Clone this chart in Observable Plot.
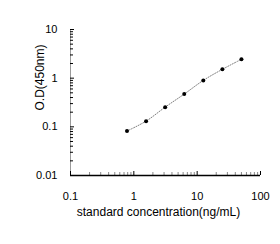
<!DOCTYPE html>
<html>
<head>
<meta charset="utf-8">
<script src="https://cdn.jsdelivr.net/npm/d3@7"></script>
<script src="https://cdn.jsdelivr.net/npm/@observablehq/plot@0.6"></script>
<style>
  html, body { margin: 0; padding: 0; background: #fff; }
  #chart svg { display: block; }
</style>
</head>
<body>
<div id="chart"></div>
<script>
// Data
const concentration = [0.78, 1.56, 3.125, 6.25, 12.5, 25, 50];
const od = [0.082, 0.131, 0.254, 0.471, 0.90, 1.52, 2.44];

const xMajor = [0.1, 1, 10, 100];
const xMajorLabels = ["0.1", "1", "10", "100"];
const yMajor = [0.01, 0.1, 1, 10];
const yMajorLabels = ["0.01", "0.1", "1", "10"];
const minorMult = [2, 3, 4, 5, 6, 7, 8, 9];
const xMinor = [0.1, 1, 10].flatMap(d => minorMult.map(m => +(d * m).toPrecision(3)));
const yMinor = [0.01, 0.1, 1].flatMap(d => minorMult.map(m => +(d * m).toPrecision(3)));

const xTitle = "standard concentration(ng/mL)";
const yTitle = "O.D(450nm)";

const data = concentration.map((c, i) => ({c, od: od[i]}));
const xLab = new Map(xMajor.map((d, i) => [d, xMajorLabels[i]]));
const yLab = new Map(yMajor.map((d, i) => [d, yMajorLabels[i]]));

const chart = Plot.plot({
  width: 280,
  height: 244,
  marginLeft: 70,
  marginRight: 20,
  marginTop: 29,
  marginBottom: 69,
  style: {fontFamily: "'Liberation Sans', Arial, sans-serif", fontSize: "11px", background: "#fff"},
  x: {type: "log", domain: [0.1, 100]},
  y: {type: "log", domain: [0.01, 10]},
  marks: [
    // axis lines
    Plot.ruleX([0.1], {y1: 0.01, y2: 10, stroke: "#9a9a9a", strokeWidth: 1}),
    // minor ticks (inward)
    Plot.axisX(xMinor, {tickSize: -3, text: null, stroke: "#888", label: null}),
    Plot.axisY(yMinor, {tickSize: -3, text: null, stroke: "#000", label: null}),
    // major ticks
    Plot.axisX(xMajor, {tickSize: -4, text: null, stroke: "#000", label: null}),
    Plot.axisY(yMajor, {tickSize: -4, text: null, stroke: "#000", label: null}),
    // major labels
    Plot.axisX(xMajor, {tickSize: 0, tickPadding: 17, tickFormat: d => xLab.get(d), fontSize: 11, fill: "#000", label: null}),
    Plot.axisY(yMajor, {tickSize: 0, tickPadding: 13, tickFormat: d => yLab.get(d), fontSize: 11, fill: "#000", label: null}),
    Plot.ruleY([0.01], {x1: 0.1, x2: 100, stroke: "#000", strokeWidth: 1.5}),
    // curve
    Plot.line(data, {x: "c", y: "od", curve: "catmull-rom", stroke: "#808080", strokeWidth: 1, strokeDasharray: "1,1.5"}),
    Plot.dot(data, {x: "c", y: "od", r: 2, fill: "#000", stroke: "none"}),
    // titles
    Plot.text([xTitle], {frameAnchor: "bottom", dx: -7, dy: 40, lineAnchor: "bottom", fontSize: 12, fill: "#000"}),
    Plot.text([yTitle], {frameAnchor: "top-left", dx: -27, dy: 48, rotate: -90, textAnchor: "middle", lineAnchor: "bottom", fontSize: 12, fill: "#000"})
  ]
});
document.getElementById("chart").appendChild(chart);
</script>
</body>
</html>
